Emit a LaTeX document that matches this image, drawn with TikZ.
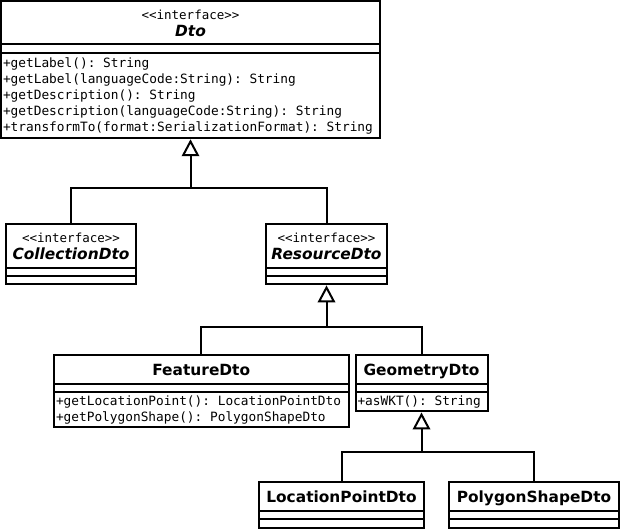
\documentclass[tikz,border=0pt]{standalone}
\usepackage{fontspec}
\setmainfont{DejaVu Sans}
\setmonofont{DejaVu Sans Mono}
\usetikzlibrary{arrows.meta,positioning,shapes.multipart}
\newcommand{\umlnamefont}{\normalfont\fontsize{15.4bp}{16bp}\selectfont\bfseries}
\newcommand{\umliface}[1]{\begin{tabular}{@{}c@{}}\rule{0pt}{17.2bp}{\fontsize{12.5bp}{16bp}\selectfont<<interface>>}\\\rule[-6.5bp]{0pt}{18.5bp}\umlnamefont\itshape #1\end{tabular}}
\newcommand{\umlname}[1]{\rule[-6.85bp]{0pt}{26bp}\umlnamefont #1}
\tikzset{%
	umlclass/.style  = {draw, line width=2bp, rectangle split, rectangle split parts=3,
		rectangle split part align={center,left,left},
		rectangle split empty part height=5bp, rectangle split empty part depth=0bp,
		inner xsep=2bp, inner ysep=0.5bp,
		anchor=north west, font=\fontsize{12.8bp}{16bp}\ttfamily}, % class box
	generalization/.style = {line width=2bp, -{Triangle[open, length=17bp, width=17.5bp]}},
	link/.style      = {line width=2bp},
	waypoint/.style  = {coordinate},
}

\begin{document}
\begin{tikzpicture}[x=1bp, y=-1bp]
	\useasboundingbox (0,0) rectangle (621,529);
	\node[umlclass, minimum width=379bp] (dto) at (0,0) {\umliface{Dto}\nodepart{two}\nodepart{three}\begin{tabular}{@{}l@{}}
		\rule{0pt}{13.5bp}+getLabel(): String\\
		+getLabel(languageCode:String): String\\
		+getDescription(): String\\
		+getDescription(languageCode:String): String\\
		+transformTo(format:SerializationFormat): String\end{tabular}};
	\node[umlclass, minimum width=130bp] (coll) at (5,223) {\umliface{CollectionDto}\nodepart{two}\nodepart{three}};
	\node[umlclass, minimum width=121bp] (res) at (265,223) {\umliface{ResourceDto}\nodepart{two}\nodepart{three}};
	\node[umlclass, minimum width=294.5bp] (feat) at (53,354) {\umlname{FeatureDto}\nodepart{two}\nodepart{three}\begin{tabular}{@{}l@{}}
		+getLocationPoint(): LocationPointDto\\
		+getPolygonShape(): PolygonShapeDto\end{tabular}};
	\node[umlclass, minimum width=132bp, right=5bp of feat.north east, anchor=north west] (geom) {\umlname{GeometryDto}\nodepart{two}\nodepart{three}\begin{tabular}{@{}l@{}}
		+asWKT(): String\end{tabular}};
	\node[umlclass, minimum width=165bp] (loc) at (258,481) {\umlname{LocationPointDto}\nodepart{two}\nodepart{three}};
	\node[umlclass, minimum width=170bp] (poly) at (448,481) {\umlname{PolygonShapeDto}\nodepart{two}\nodepart{three}};
	\node[waypoint, below=48.5bp of dto.south] (jdto) {};
	\node[waypoint, below=41.5bp of res.south] (jres) {};
	\node[waypoint, below=40bp of geom.south] (jgeom) {};
	\draw[generalization] (coll.north) |- (jdto) -- (dto.south);
	\draw[link] (res.north) |- (jdto);
	\draw[generalization] (feat.north) |- (jres) -- (res.south);
	\draw[link] (geom.north) |- (jres);
	\draw[generalization] (loc.north) |- (jgeom) -- (geom.south);
	\draw[link] (poly.north) |- (jgeom);
\end{tikzpicture}
\end{document}
